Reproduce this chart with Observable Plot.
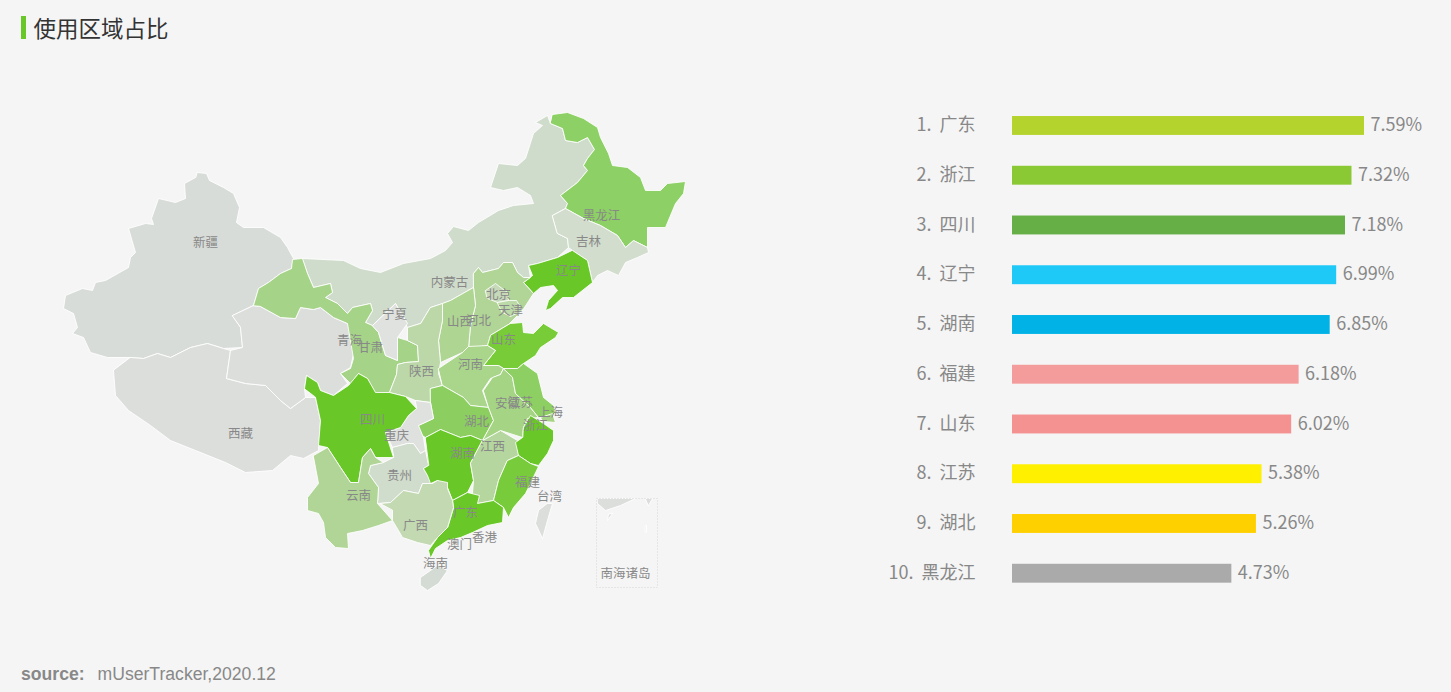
<!DOCTYPE html>
<html lang="zh">
<head>
<meta charset="utf-8">
<script src="https://cdn.jsdelivr.net/npm/d3@7"></script>
<script src="https://cdn.jsdelivr.net/npm/@observablehq/plot@0.6"></script>
<style>
html,body{margin:0;padding:0;background:#f5f5f5;width:1451px;height:692px;overflow:hidden;position:relative;font-family:"Noto Sans CJK SC","Noto Sans",sans-serif}
#head{position:absolute;left:21px;top:16px;height:23px;border-left:5px solid #69c827;padding-left:7.5px;font-size:22.5px;line-height:23px;color:#333;white-space:nowrap}
#foot{position:absolute;left:21px;top:664px;font:17.6px/20px "Liberation Sans",Arial,sans-serif;color:#888;white-space:pre}
#foot b{margin-right:13px}
#map,#bars{position:absolute;top:0}
#map{left:0}#bars{left:870px}
svg{background:transparent!important}
</style>
</head>
<body>
<div id="head">使用区域占比</div>
<div id="map"></div>
<div id="bars"></div>
<div id="foot"><b>source:</b>mUserTracker,2020.12</div>
<script>
// ---- ranking
const rankNames = ["广东","浙江","四川","辽宁","湖南","福建","山东","江苏","湖北","黑龙江"];
const rankValues = [7.59,7.32,7.18,6.99,6.85,6.18,6.02,5.38,5.26,4.73];
const rankColors = ["#b4d32d","#8bc934","#66ae46","#1ec8f7","#00b2e6","#f49c9c","#f49292","#fff000","#ffd000","#aaaaaa"];

// ---- map outlines
const xinjiang=[[197,172],[206,173],[209,180],[223,187],[233,193],[239,207],[236,222],[243,227],[263,227],[280,237],[287,247],[293,258],[291,268],[280,273],[268,282],[258,288],[253,305],[232,315],[240,327],[242,347],[223,348],[207,343],[190,347],[170,357],[157,353],[143,358],[130,357],[107,357],[90,352],[83,337],[72,333],[77,327],[73,313],[63,308],[65,295],[82,288],[92,290],[95,282],[105,280],[128,267],[130,257],[135,252],[128,228],[145,223],[153,224],[151,218],[158,198],[175,202],[185,198],[184,183],[195,177]];
const xizang=[[130,357],[143,358],[157,353],[170,357],[190,347],[207,343],[223,348],[230,350],[226,378],[245,383],[265,385],[280,400],[290,408],[305,397],[315,397],[320,420],[318,450],[303,458],[290,455],[272,470],[245,472],[225,462],[195,450],[170,440],[150,425],[128,410],[115,395],[113,370]];
const qinghai=[[232,315],[253,305],[260,306],[280,317],[295,318],[300,307],[313,309],[320,307],[333,317],[347,323],[355,345],[350,367],[340,373],[347,383],[333,395],[320,390],[317,382],[306,375],[304,388],[305,397],[290,408],[280,400],[265,385],[245,383],[226,378],[230,350],[242,347],[240,327]];
const gansu=[[253,305],[258,288],[268,282],[280,273],[291,268],[292,259],[302,258],[307,273],[313,287],[330,283],[332,292],[325,297],[337,303],[347,313],[352,307],[370,303],[372,310],[365,322],[372,325],[378,332],[385,355],[397,360],[397,337],[407,340],[417,345],[418,361],[405,362],[397,364],[396,374],[389,392],[375,393],[367,378],[358,373],[350,383],[340,373],[350,368],[353,358],[347,323],[333,317],[320,307],[313,309],[300,307],[295,318],[280,317],[260,306]];
const neimenggu=[[302,258],[343,260],[360,268],[380,272],[403,263],[430,258],[445,250],[452,242],[447,233],[453,226],[468,230],[478,222],[498,210],[513,205],[533,203],[530,195],[517,187],[503,190],[490,187],[498,163],[517,165],[525,158],[533,133],[542,125],[535,122],[547,115],[550,123],[562,128],[565,140],[577,142],[587,137],[594,149],[587,158],[583,165],[587,170],[577,182],[560,195],[567,203],[565,208],[552,215],[557,233],[567,238],[568,247],[557,257],[537,263],[528,265],[530,277],[523,277],[517,272],[512,262],[503,262],[498,268],[482,272],[478,267],[473,273],[473,287],[450,300],[442,303],[430,307],[420,323],[407,327],[395,303],[372,325],[365,322],[372,310],[370,303],[352,307],[347,313],[337,303],[325,297],[332,292],[330,283],[313,287],[307,273]];
const heilongjiang=[[552,114],[567,112],[583,118],[597,127],[600,137],[608,153],[612,165],[627,167],[640,177],[645,190],[660,190],[667,183],[685,181],[683,193],[675,203],[665,227],[647,227],[647,247],[633,240],[625,247],[617,235],[600,225],[583,218],[565,208],[567,203],[560,195],[577,182],[587,170],[583,165],[587,158],[594,149],[587,137],[577,142],[565,140],[562,128],[550,123]];
const jilin=[[552,215],[565,208],[583,218],[600,225],[617,235],[625,247],[633,240],[647,247],[648,252],[637,257],[625,262],[618,275],[607,270],[597,275],[592,282],[587,260],[572,250],[568,247],[567,238],[557,233]];
const liaoning=[[572,250],[587,260],[592,282],[573,297],[562,297],[550,308],[545,310],[548,300],[557,290],[553,285],[540,287],[533,293],[523,282],[532,275],[528,265],[537,263],[557,257]];
const hebei=[[473,273],[478,267],[482,272],[498,268],[503,262],[512,262],[517,272],[523,277],[530,277],[523,282],[533,293],[522,310],[508,324],[490,335],[487,345],[468,348],[470,325],[475,305],[473,287]];
const beijing=[[485,290],[495,283],[507,292],[508,300],[497,302],[487,298]];
const tianjin=[[497,302],[508,300],[516,300],[522,310],[510,316],[502,312]];
const shanxi=[[442,303],[450,300],[473,287],[475,305],[470,325],[468,348],[462,352],[440,362],[438,340],[442,320]];
const shaanxi=[[430,307],[442,303],[442,320],[438,340],[440,362],[438,373],[442,385],[430,388],[430,402],[415,400],[405,396],[389,392],[396,374],[397,364],[405,362],[418,361],[417,345],[407,340],[407,327],[420,323]];
const ningxia=[[372,325],[395,303],[407,323],[397,337],[397,360],[385,355],[378,332]];
const shandong=[[510,323],[522,322],[523,332],[533,333],[543,323],[558,332],[555,337],[540,347],[535,355],[523,363],[517,368],[503,368],[498,365],[483,365],[495,350],[487,345],[490,335]];
const henan=[[438,368],[462,352],[468,346],[487,345],[495,350],[483,365],[498,365],[503,368],[500,374],[490,378],[482,390],[488,407],[470,405],[463,397],[442,385]];
const hubei=[[430,388],[442,385],[463,397],[470,405],[488,407],[493,420],[482,440],[470,435],[460,437],[440,429],[425,437],[418,433],[418,425],[433,418],[430,402]];
const chongqing=[[415,400],[430,402],[433,418],[418,425],[423,437],[425,450],[420,453],[413,443],[407,443],[392,447],[385,432],[400,427],[408,415],[416,408]];
const sichuan=[[304,388],[306,375],[317,382],[320,390],[333,395],[348,385],[358,373],[367,378],[375,392],[389,392],[405,396],[416,408],[408,415],[400,427],[385,432],[393,457],[375,457],[370,448],[362,457],[358,482],[350,482],[340,467],[327,447],[318,445],[320,420],[315,397]];
const guizhou=[[392,447],[407,443],[413,443],[420,453],[425,450],[428,465],[423,468],[432,483],[422,483],[418,493],[403,490],[390,502],[377,503],[378,487],[368,473],[370,465],[383,462],[393,457]];
const hunan=[[425,437],[440,429],[460,437],[470,435],[482,440],[470,463],[473,480],[467,492],[452,500],[447,487],[437,480],[430,483],[427,475],[423,468],[428,465]];
const jiangxi=[[482,440],[500,430],[517,440],[518,455],[507,460],[498,480],[493,500],[477,503],[472,493],[473,480],[470,463]];
const anhui=[[483,390],[492,377],[500,374],[503,368],[512,377],[515,393],[530,407],[538,417],[527,418],[523,427],[522,437],[500,430],[482,440],[493,420],[488,407]];
const jiangsu=[[503,368],[517,368],[523,363],[537,373],[543,397],[553,405],[555,412],[550,418],[538,417],[530,407],[515,393],[512,377]];
const shanghai=[[540,417],[552,413],[555,422],[543,421]];
const zhejiang=[[523,427],[530,415],[543,423],[553,430],[553,440],[547,453],[538,465],[530,463],[518,455],[515,442],[522,437]];
const fujian=[[507,460],[518,455],[530,463],[538,466],[530,483],[525,493],[513,507],[508,517],[503,507],[493,500],[498,480]];
const guangdong=[[453,507],[452,500],[467,492],[479,495],[477,503],[493,500],[503,507],[502,522],[487,525],[472,532],[460,537],[447,540],[435,548],[430,558],[428,550],[437,537],[447,527]];
const guangxi=[[380,503],[390,502],[403,490],[418,493],[422,483],[432,483],[437,480],[447,482],[447,488],[452,500],[453,507],[447,527],[437,537],[430,545],[417,542],[402,537],[398,530],[392,520],[392,510]];
const yunnan=[[313,455],[327,447],[340,467],[350,482],[358,482],[362,457],[370,448],[375,457],[383,462],[370,465],[368,473],[378,487],[377,503],[392,520],[378,525],[362,530],[347,533],[348,548],[335,547],[325,537],[323,522],[318,513],[307,510],[307,497],[318,483],[315,467]];
const hainan=[[420,577],[437,565],[447,570],[438,583],[427,590],[420,585]];
const taiwan=[[547,503],[552,503],[547,520],[542,538],[535,523],[538,510]];
const isleA=[[597,498],[635,498],[620,505],[605,510],[597,503]];
const isleB=[[645,498],[652,498],[648,505]];
const isleC=[[612,513],[607,520],[608,514]];
const isleD=[[645,525],[646,525],[646,532],[645,532]];
const insetBox=[[596,498],[657,498],[657,587],[596,587]];

const regionNames=["新疆","西藏","青海","内蒙古","甘肃","黑龙江","吉林","辽宁","河北","山西","陕西","宁夏","北京","天津","山东","河南","湖北","重庆","四川","贵州","湖南","江西","安徽","江苏","上海","浙江","福建","广东","广西","云南","海南","台湾","岛甲","岛乙","岛丙","岛丁"];
const regionRings=[xinjiang,xizang,qinghai,neimenggu,gansu,heilongjiang,jilin,liaoning,hebei,shanxi,shaanxi,ningxia,beijing,tianjin,shandong,henan,hubei,chongqing,sichuan,guizhou,hunan,jiangxi,anhui,jiangsu,shanghai,zhejiang,fujian,guangdong,guangxi,yunnan,hainan,taiwan,isleA,isleB,isleC,isleD];
const regionColors=["#d8dcd8","#dcdedc","#dcdedc","#d0dccb","#a5d387","#8dd066","#d2ddcd","#69c827","#b0d596","#afd592","#bcd8a8","#e0e2e0","#c6d9b8","#bcd9a8","#77cc38","#aad68c","#8ccf60","#dfe1df","#69c827","#d0dccc","#69c827","#b5d69e","#a5d485","#8dcf62","#a7d386","#69c827","#78cc3c","#69c827","#c2d9b2","#b0d596","#d4dbd4","#dcdedc","#dcdedc","#dcdedc","#dcdedc","#e4e6e4"];

const labelNames=["新疆","西藏","青海","甘肃","内蒙古","宁夏","黑龙江","吉林","辽宁","北京","天津","河北","山西","陕西","山东","河南","江苏","安徽","上海","浙江","湖北","四川","重庆","湖南","江西","贵州","云南","广西","广东","福建","台湾","香港","澳门","海南","南海诸岛"];
const labelX=[205,240,349,370,449,394,601,588,568,498,510,478,459,421,503,470,520,507,550,535,476,372,396,462,492,399,358,415,465,527,549,484,459,435,625];
const labelY=[242,433,340,347,282,314,215,241,270,294,310,320,321,371,339,364,402,403,412,425,421,419,435,453,446,475,495,525,512,482,496,537,544,563,573];

const outlineRows=regionNames.flatMap((name,i)=>regionRings[i].map(([x,y])=>({name,x,y,color:regionColors[i]})));
const insetRows=insetBox.map(([x,y])=>({x,y}));
const labelRows=labelNames.map((name,i)=>({name,x:labelX[i],y:labelY[i]}));
const rankRows=rankNames.map((name,i)=>({name,label:`${i+1}.\u00a0\u00a0${name}`,value:rankValues[i],color:rankColors[i]}));

const fontFamily='"Noto Sans CJK SC","Noto Sans",sans-serif';

document.getElementById("map").append(Plot.plot({
  width:860,height:692,margin:0,
  style:{background:"transparent",fontFamily},
  x:{domain:[0,860],range:[0,860],axis:null},
  y:{domain:[0,692],range:[0,692],axis:null},
  color:{type:"identity"},
  marks:[
    Plot.line(outlineRows,{x:"x",y:"y",z:"name",fill:"color",stroke:"#ffffff",strokeWidth:1,strokeOpacity:0.85,curve:"linear-closed"}),
    Plot.line(insetRows,{x:"x",y:"y",stroke:"#e4e4e4",strokeWidth:1,strokeDasharray:"1 2",curve:"linear-closed"}),
    Plot.text(labelRows,{x:"x",y:"y",text:"name",fontSize:12.5,fill:"#888888"})
  ]
}));

document.getElementById("bars").append(Plot.plot({
  width:581,height:692,margin:0,
  style:{background:"transparent",fontFamily},
  x:{domain:[0,9],range:[142,559.4],axis:null},
  y:{domain:rankNames,range:[100.6,598.1],paddingInner:0.62,paddingOuter:0.31,round:false,axis:null},
  color:{type:"identity"},
  marks:[
    Plot.barX(rankRows,{x:"value",y:"name",fill:"color"}),
    Plot.text(rankRows,{x:"value",y:"name",text:d=>d.value.toFixed(2)+"%",dx:6,dy:-0.5,textAnchor:"start",fontSize:18,fill:"#888888"}),
    Plot.text(rankRows,{x:()=>0,y:"name",text:"label",dx:-37,dy:-0.5,textAnchor:"end",fontSize:18,fill:"#888888"})
  ]
}));
</script>
</body>
</html>
